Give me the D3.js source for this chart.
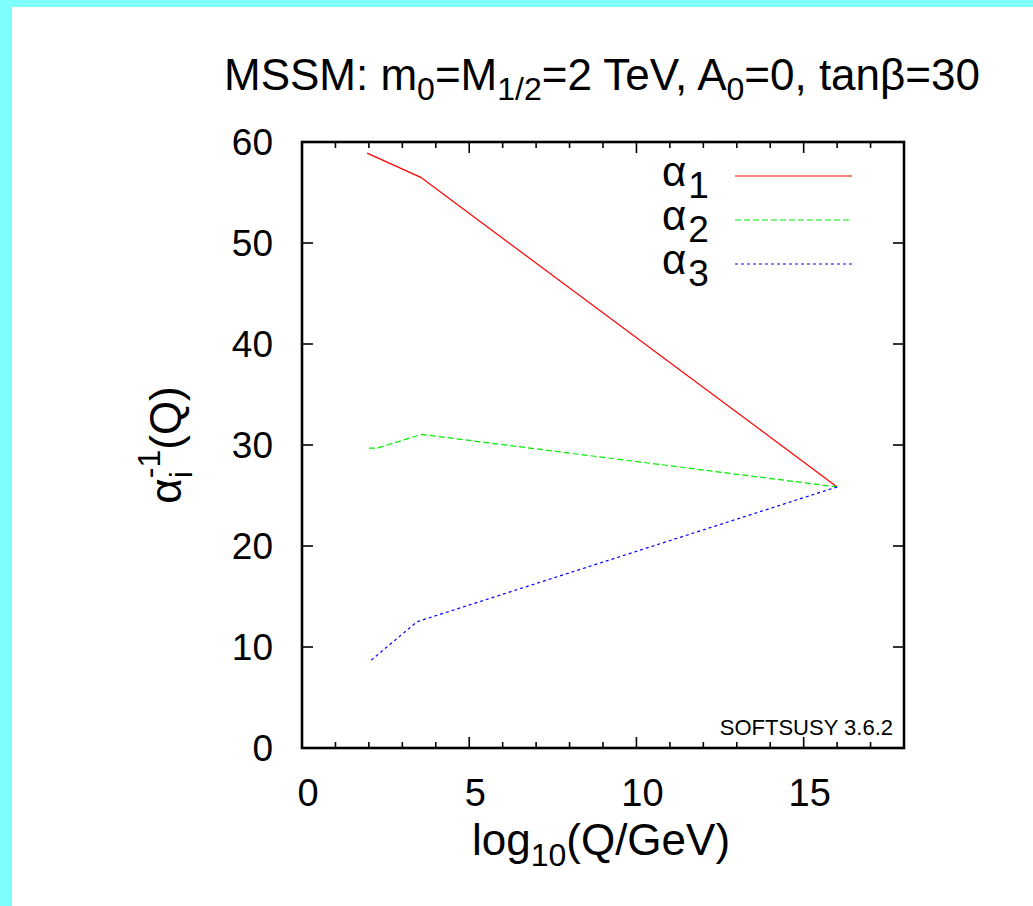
<!DOCTYPE html>
<html>
<head>
<meta charset="utf-8">
<script src="https://cdn.jsdelivr.net/npm/d3@7/dist/d3.min.js"></script>
<style>
  html, body { margin: 0; padding: 0; background: #7fffff; }
  svg { display: block; }
  text { font-family: "Liberation Sans", Arial, Helvetica, sans-serif; fill: #000; }
</style>
</head>
<body>
<script>
// ---- data ----
const seriesNames = ["1", "2", "3"];            // subscripts of alpha
const seriesColors = ["#ff0000", "#00ee00", "#0000ff"];
const seriesDash = [null, "6,3", "3,3"];
const logQ1 = [1.95, 3.55, 16.0];
const inv1  = [58.9, 56.5, 25.85];
const logQ2 = [2.0, 2.25, 3.58, 16.0];
const inv2  = [29.7, 29.7, 31.05, 25.85];
const logQ3 = [2.07, 3.44, 16.0];
const inv3  = [8.7, 12.5, 25.85];
const xTicks = [0, 5, 10, 15];
const xMinorTicks = d3.range(0, 19, 1);
const yTicks = [0, 10, 20, 30, 40, 50, 60];

const W = 1033, H = 906;
const svg = d3.select("body").append("svg").attr("width", W).attr("height", H);

// white page area (cyan border left & top)
svg.append("rect").attr("x", 12).attr("y", 7).attr("width", W - 12).attr("height", H - 7).attr("fill", "#fff");

const L = 302, R = 904, T = 142, B = 748;
const x = d3.scaleLinear().domain([0, 18]).range([L, R]);
const y = d3.scaleLinear().domain([0, 60]).range([B, T]);

// title
const title = svg.append("text").attr("x", 602).attr("y", 90).attr("text-anchor", "middle").style("font-size", "44px");
const sub = (t, s) => { t.append("tspan").attr("dy", 10).style("font-size", "32px").text(s); };
title.append("tspan").text("MSSM: m");
sub(title, "0");
title.append("tspan").attr("dy", -10).text("=M");
sub(title, "1/2");
title.append("tspan").attr("dy", -10).text("=2 TeV, A");
sub(title, "0");
title.append("tspan").attr("dy", -10).text("=0, tanβ=30");

// ticks (inward, mirrored)
const tickG = svg.append("g").attr("stroke", "#000").attr("stroke-width", 1.6);
xMinorTicks.forEach(v => {
  const len = xTicks.includes(v) ? 11 : 6;
  tickG.append("line").attr("x1", x(v)).attr("x2", x(v)).attr("y1", B).attr("y2", B - len);
  tickG.append("line").attr("x1", x(v)).attr("x2", x(v)).attr("y1", T).attr("y2", T + len);
});
yTicks.forEach(v => {
  tickG.append("line").attr("x1", L).attr("x2", L + 11).attr("y1", y(v)).attr("y2", y(v));
  tickG.append("line").attr("x1", R).attr("x2", R - 11).attr("y1", y(v)).attr("y2", y(v));
});

// tick labels
svg.append("g").selectAll("text").data(xTicks).join("text")
  .attr("x", d => x(d) + 6).attr("y", 806).attr("text-anchor", "middle")
  .style("font-size", "38px").text(d => d);
svg.append("g").selectAll("text").data(yTicks).join("text")
  .attr("x", 273).attr("y", d => y(d) + 13).attr("text-anchor", "end")
  .style("font-size", "37px").text(d => d);

// axis labels
const xl = svg.append("text").attr("x", 601).attr("y", 855).attr("text-anchor", "middle").style("font-size", "44px");
xl.append("tspan").text("log");
xl.append("tspan").attr("dy", 11).style("font-size", "32px").text("10");
xl.append("tspan").attr("dy", -11).text("(Q/GeV)");

const yl = svg.append("text").attr("transform", "translate(181,445) rotate(-90)").attr("text-anchor", "middle").style("font-size", "44px");
yl.append("tspan").text("α");
yl.append("tspan").attr("dy", 11).style("font-size", "32px").text("i");
yl.append("tspan").attr("dx", -7).attr("dy", -32).style("font-size", "32px").text("-1");
yl.append("tspan").attr("dy", 21).text("(Q)");

// SOFTSUSY label
svg.append("text").attr("x", 893).attr("y", 735).attr("text-anchor", "end").style("font-size", "22px").text("SOFTSUSY 3.6.2");

// curves
const series = [
  d3.zip(logQ1, inv1),
  d3.zip(logQ2, inv2),
  d3.zip(logQ3, inv3)
];
const line = d3.line().x(d => x(d[0])).y(d => y(d[1]));
series.forEach((s, i) => {
  svg.append("path").attr("d", line(s)).attr("fill", "none")
    .attr("stroke", seriesColors[i]).attr("stroke-width", 1.2)
    .attr("stroke-dasharray", seriesDash[i]);
});

// legend
const legY = [176, 220, 264];
seriesNames.forEach((n, i) => {
  const t = svg.append("text").attr("x", 662).attr("y", legY[i] + 10).style("font-size", "42px");
  t.append("tspan").text("α");
  t.append("tspan").attr("dx", 2).attr("dy", 12).style("font-size", "37px").text(n);
  svg.append("line").attr("x1", 735).attr("x2", 852).attr("y1", legY[i]).attr("y2", legY[i])
    .attr("stroke", seriesColors[i]).attr("stroke-width", 1.2)
    .attr("stroke-dasharray", seriesDash[i]);
});

// frame
svg.append("rect").attr("x", L).attr("y", T).attr("width", R - L).attr("height", B - T)
  .attr("fill", "none").attr("stroke", "#000").attr("stroke-width", 2.6);
</script>
</body>
</html>
